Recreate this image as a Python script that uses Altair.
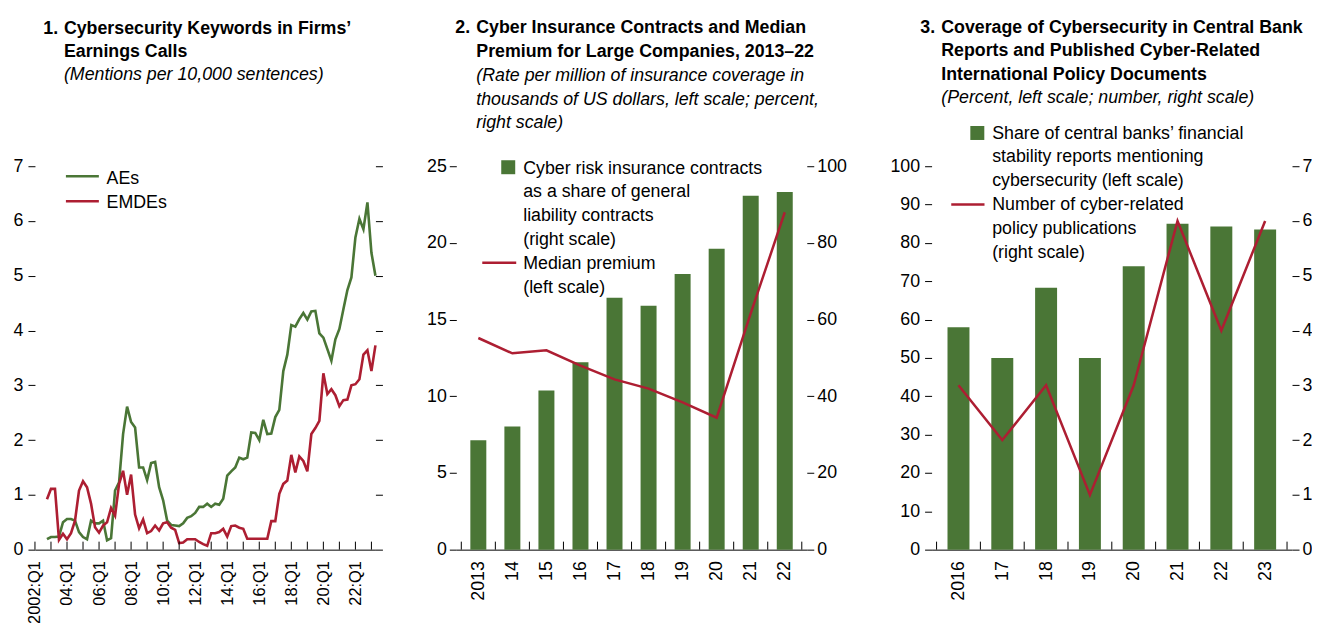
import json
import altair as alt
import pandas as pd

# ---------------- data ----------------
# Panel 1: mentions per 10,000 sentences, quarterly 2002:Q4 - 2023:Q2
p1_first_quarter = "2002Q4"
ae_values = [
    0.19, 0.23, 0.23, 0.24, 0.50, 0.56, 0.56, 0.53, 0.32, 0.23,
    0.19, 0.53, 0.48, 0.48, 0.53, 0.17, 0.21, 1.08, 1.23, 2.11,
    2.61, 2.33, 2.23, 1.50, 1.50, 1.27, 1.58, 1.60, 1.14, 0.90,
    0.53, 0.45, 0.44, 0.43, 0.48, 0.58, 0.61, 0.67, 0.78, 0.78,
    0.84, 0.78, 0.84, 0.82, 0.93, 1.35, 1.43, 1.50, 1.68, 1.65,
    1.68, 2.14, 2.13, 2.00, 2.37, 2.11, 2.12, 2.42, 2.55, 3.26,
    3.56, 4.10, 4.07, 4.21, 4.32, 4.20, 4.35, 4.36, 3.95, 3.87,
    3.66, 3.45, 3.84, 4.03, 4.39, 4.74, 4.97, 5.70, 6.04, 5.85,
    6.34, 5.42, 5.00,
]
emde_values = [
    0.92, 1.11, 1.11, 0.18, 0.29, 0.19, 0.30, 0.53, 1.08, 1.25,
    1.14, 0.84, 0.41, 0.31, 0.44, 0.50, 0.76, 0.62, 1.20, 1.44,
    1.00, 1.37, 0.64, 0.39, 0.55, 0.30, 0.34, 0.44, 0.35, 0.48,
    0.50, 0.40, 0.36, 0.12, 0.13, 0.19, 0.19, 0.19, 0.14, 0.10,
    0.07, 0.30, 0.30, 0.32, 0.38, 0.24, 0.43, 0.44, 0.40, 0.38,
    0.20, 0.20, 0.20, 0.20, 0.20, 0.20, 0.52, 0.52, 1.02, 1.20,
    1.26, 1.73, 1.41, 1.70, 1.62, 1.43, 2.11, 2.22, 2.35, 3.22,
    2.84, 2.93, 2.82, 2.62, 2.73, 2.74, 3.00, 3.02, 3.11, 3.56,
    3.64, 3.26, 3.73,
]
p1_tick_years = list(range(2002, 2024))
p1_label_years = list(range(2002, 2023, 2))
p1_labels = ["2002:Q1", "04:Q1", "06:Q1", "08:Q1", "10:Q1", "12:Q1",
             "14:Q1", "16:Q1", "18:Q1", "20:Q1", "22:Q1"]
p1_y_ticks = [0, 1, 2, 3, 4, 5, 6, 7]

# Panel 2
p2_years = ["2013", "14", "15", "16", "17", "18", "19", "20", "21", "22"]
cyber_share = [28.5, 32.1, 41.5, 48.9, 65.7, 63.6, 71.9, 78.5, 92.3, 93.3]
median_premium = [13.8, 12.8, 13.0, 12.0, 11.1, 10.5, 9.6, 8.6, 15.4, 22.0]
p2_left_ticks = [0, 5, 10, 15, 20, 25]
p2_right_ticks = [0, 20, 40, 60, 80, 100]

# Panel 3
p3_years = ["2016", "17", "18", "19", "20", "21", "22", "23"]
cb_share = [58.0, 50.0, 68.3, 50.0, 73.9, 85.0, 84.3, 83.5]
policy_pubs = [3, 2, 3, 1, 3, 6, 4, 6]
p3_left_ticks = [0, 10, 20, 30, 40, 50, 60, 70, 80, 90, 100]
p3_right_ticks = [0, 1, 2, 3, 4, 5, 6, 7]

# ---------------- style ----------------
FONT = "Liberation Sans, Arial, sans-serif"
FS = 17.8
GREEN = "#4A7636"
RED = "#AD1E32"
H = 384
W1, W2, W3 = 341, 351, 361
one = pd.DataFrame({"k": [0]})


def label_text(lines, x, y, weight="normal", style="normal", lh=23.6):
    return alt.Chart(one).mark_text(
        text=lines, align="left", baseline="alphabetic", font=FONT,
        fontSize=FS, fontWeight=weight, fontStyle=style, lineHeight=lh,
        color="black",
    ).encode(x=alt.value(x), y=alt.value(y))


def swatch_line(x0, x1, y, color):
    return alt.Chart(one).mark_rule(color=color, strokeWidth=2.5).encode(
        x=alt.value(x0), x2=alt.value(x1), y=alt.value(y))


def swatch_box(x0, x1, y0, y1, color):
    return alt.Chart(one).mark_rect(color=color).encode(
        x=alt.value(x0), x2=alt.value(x1), y=alt.value(y0), y2=alt.value(y1))


def inner_ticks(positions, xenc, field):
    return alt.Chart(pd.DataFrame({field: positions})).mark_rule(
        color="black", strokeWidth=1).encode(
        x=xenc, y=alt.value(H - 8), y2=alt.value(H))


def left_axis(values, pad):
    return alt.Axis(orient="left", values=values, domain=False, tickSize=7,
                    labelPadding=pad, title=None, grid=False)


def right_axis(values, labels=True):
    return alt.Axis(orient="right", values=values, domain=False, tickSize=7,
                    labelPadding=3, labels=labels, title=None, grid=False)


def bottom_axis(values, expr, size=FS):
    return alt.Axis(values=values, labelExpr=expr, labelAngle=270, ticks=False,
                    tickSize=0, labelPadding=11, labelFlush=False,
                    labelOverlap=False, domain=True, title=None, grid=False,
                    orient="bottom", labelFontSize=size)


# ---------------- panel 1 ----------------
periods = pd.period_range(p1_first_quarter, periods=len(ae_values), freq="Q")
df1 = pd.DataFrame({
    "t": [p.year + (p.quarter - 1) / 4 for p in periods],
    "AEs": ae_values,
    "EMDEs": emde_values,
})
x1 = alt.X("t:Q", scale=alt.Scale(domain=[2002, 2023.25], nice=False, zero=False),
           axis=bottom_axis(p1_label_years,
                            f"{json.dumps(p1_labels)}[(datum.value-2002)/2]",
                            size=16.4))
ae_line = alt.Chart(df1).mark_line(color=GREEN, strokeWidth=2.6).encode(
    x=x1, y=alt.Y("AEs:Q", scale=alt.Scale(domain=[0, 7], nice=False),
                  axis=left_axis(p1_y_ticks, 5)))
emde_line = alt.Chart(df1).mark_line(color=RED, strokeWidth=2.6).encode(
    x=x1, y=alt.Y("EMDEs:Q", scale=alt.Scale(domain=[0, 7], nice=False),
                  axis=right_axis(p1_y_ticks, labels=False)))
p1 = alt.layer(
    ae_line, emde_line,
    inner_ticks(p1_tick_years, x1, "t"),
    swatch_line(31, 64, 10, GREEN), swatch_line(31, 64, 35, RED),
    label_text(["AEs", "EMDEs"], 71.7, 17.7, lh=24),
    label_text("1.", 8.3, -132.7, weight="bold"),
    label_text(["Cybersecurity Keywords in Firms’", "Earnings Calls"], 29, -132.7,
               weight="bold", lh=23),
    label_text("(Mentions per 10,000 sentences)", 29, -86, style="italic"),
).resolve_scale(y="independent").properties(width=W1, height=H)

# ---------------- panel 2 ----------------
df2 = pd.DataFrame({"i": list(range(len(p2_years))), "share": cyber_share,
                    "premium": median_premium})
x2 = alt.X("i:Q", scale=alt.Scale(domain=[-0.5, len(p2_years) - 0.5], nice=False, zero=False),
           axis=bottom_axis(list(range(len(p2_years))), f"{json.dumps(p2_years)}[datum.value]"))
bars2 = alt.Chart(df2).mark_bar(color=GREEN, width=16).encode(
    x=x2, y=alt.Y("share:Q", scale=alt.Scale(domain=[0, 100], nice=False),
                  axis=right_axis(p2_right_ticks)))
line2 = alt.Chart(df2).mark_line(color=RED, strokeWidth=2.5).encode(
    x=x2, y=alt.Y("premium:Q", scale=alt.Scale(domain=[0, 25], nice=False),
                  axis=left_axis(p2_left_ticks, 3)))
p2 = alt.layer(
    bars2, line2,
    inner_ticks([i - 0.5 for i in range(len(p2_years) + 1)], x2, "i"),
    swatch_box(45, 59, -6, 8, GREEN),
    swatch_line(26, 60, 96.7, RED),
    label_text(["Cyber risk insurance contracts", "as a share of general",
                "liability contracts", "(right scale)", "Median premium",
                "(left scale)"], 67, 7.3, lh=23.9),
    label_text("2.", -1, -133.3, weight="bold"),
    label_text(["Cyber Insurance Contracts and Median",
                "Premium for Large Companies, 2013–22"], 20, -133.3,
               weight="bold", lh=24.3),
    label_text(["(Rate per million of insurance coverage in",
                "thousands of US dollars, left scale; percent,",
                "right scale)"], 20, -85, style="italic", lh=23.4),
).resolve_scale(y="independent").properties(width=W2, height=H)

# ---------------- panel 3 ----------------
df3 = pd.DataFrame({"i": list(range(len(p3_years))), "share": cb_share,
                    "pubs": policy_pubs})
x3 = alt.X("i:Q", scale=alt.Scale(domain=[-0.5, len(p3_years) - 0.5], nice=False, zero=False),
           axis=bottom_axis(list(range(len(p3_years))), f"{json.dumps(p3_years)}[datum.value]"))
bars3 = alt.Chart(df3).mark_bar(color=GREEN, width=22).encode(
    x=x3, y=alt.Y("share:Q", scale=alt.Scale(domain=[0, 100], nice=False),
                  axis=left_axis(p3_left_ticks, 5)))
line3 = alt.Chart(df3).mark_line(color=RED, strokeWidth=2.5).encode(
    x=x3, y=alt.Y("pubs:Q", scale=alt.Scale(domain=[0, 7], nice=False),
                  axis=right_axis(p3_right_ticks)))
p3 = alt.layer(
    bars3, line3,
    inner_ticks([i - 0.5 for i in range(len(p3_years) + 1)], x3, "i"),
    swatch_box(38.8, 52.8, -40.3, -26.3, GREEN),
    swatch_line(19.7, 53, 38.3, RED),
    label_text(["Share of central banks’ financial", "stability reports mentioning",
                "cybersecurity (left scale)", "Number of cyber-related",
                "policy publications", "(right scale)"], 60.7, -27.7, lh=23.9),
    label_text("3.", -11.3, -133.3, weight="bold"),
    label_text(["Coverage of Cybersecurity in Central Bank",
                "Reports and Published Cyber-Related",
                "International Policy Documents"], 9.7, -133.3,
               weight="bold", lh=23.3),
    label_text("(Percent, left scale; number, right scale)", 9.7, -63.3,
               style="italic"),
).resolve_scale(y="independent").properties(width=W3, height=H)

chart = alt.hconcat(p1, p2, p3, spacing=43).properties(
    padding={"left": 5, "top": 10, "right": 0, "bottom": 0}
).configure_view(stroke=None).configure_axis(
    labelFont=FONT, labelFontSize=FS, labelColor="black", tickColor="black",
    domainColor="black", tickWidth=1, domainWidth=1, grid=False,
)

chart.save("out.html", embed_options={"renderer": "svg", "actions": False})
